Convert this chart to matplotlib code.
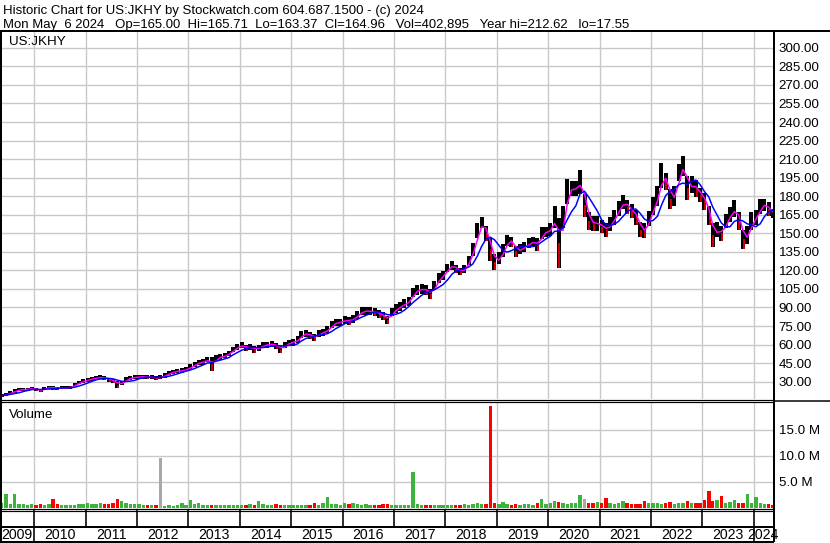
import matplotlib
matplotlib.use("Agg")
import matplotlib.pyplot as plt
import matplotlib.dates as mdates
from matplotlib.lines import Line2D
import numpy as np
import pandas as pd

# ---------------- data ----------------
title_line1 = "Historic Chart for US:JKHY by Stockwatch.com 604.687.1500 - (c) 2024"
title_line2 = ("Mon May  6 2024   Op=165.00  Hi=165.71  Lo=163.37  Cl=164.96   "
               "Vol=402,895   Year hi=212.62   lo=17.55")
symbol = "US:JKHY"
volume_title = "Volume"

first_month = "2009-05"          # monthly bars, May 2009 .. May 2024
years = list(range(2009, 2025))
price_ticks = [30, 45, 60, 75, 90, 105, 120, 135, 150, 165, 180, 195, 210,
               225, 240, 255, 270, 285, 300]
vol_ticks = [5, 10, 15]          # millions

price_hi = [
    19.8, 20.8, 22.3, 23.8, 24.8, 24.8, 25.3, 25.8,                          # 2009 May-Dec
    24.8, 24.3, 25.8, 26.8, 26.5, 25.8, 26.3, 26.3, 26.8, 28.8, 30.8, 31.8,  # 2010
    33.1, 34.1, 34.6, 35.1, 34.6, 33.1, 32.3, 30.5, 30.8, 33.6, 34.6, 35.1,  # 2011
    35.7, 35.7, 35.2, 35.2, 34.7, 35.2, 36.7, 38.7, 39.7, 40.2, 40.7, 41.7,  # 2012
    44.2, 46.2, 47.7, 48.2, 50.2, 49.7, 51.2, 52.2, 53.2, 55.2, 58.2, 60.2,  # 2013
    62, 59.5, 60.5, 58.5, 60, 62, 62.5, 63, 61.5, 58.5, 62, 64,              # 2014
    64.8, 66.8, 70.8, 71.8, 69.8, 68.8, 71.8, 72.8, 74.8, 78.8, 80.8, 80.8,  # 2015
    83.2, 82.2, 84.2, 87.2, 90.2, 90.2, 90.2, 89.2, 88.2, 86.2, 83.2, 89.2,  # 2016
    92.8, 94.8, 96.8, 98.8, 105.8, 107.8, 108.8, 107.8, 104.8, 111.8, 117.8, 119.8,  # 2017
    125, 128, 124.5, 122, 124.5, 132, 142, 158, 163, 156, 146, 133,        # 2018
    135, 141, 149, 147, 140, 141, 143, 146, 147, 146, 155, 155,            # 2019
    158, 172, 162, 172, 194, 192, 192, 201, 182, 167, 164, 164,            # 2020
    161, 158, 163, 169, 176, 181, 177, 174, 169, 159, 158, 168,            # 2021
    179, 188, 207, 199, 186, 188, 206, 212.6, 196, 196, 193, 187,          # 2022
    183, 172, 158, 159, 156, 166, 171, 177, 167, 153, 156, 167,            # 2023
    169, 178, 178, 175, 170,                                               # 2024 Jan-May
]
price_lo = [
    17.6, 18.3, 19.7, 21.2, 22.2, 22.2, 22.7, 23.2,
    22.2, 21.7, 23.2, 24.2, 23.5, 23.2, 23.7, 23.7, 24.2, 26.2, 28.2, 29.2,
    29.9, 30.9, 31.4, 31.9, 31.4, 29.9, 28.8, 24.8, 27.2, 30.4, 31.4, 31.9,
    32.3, 32.3, 31.8, 31.8, 31.3, 31.8, 33.3, 35.3, 36.3, 36.8, 37.3, 38.3,
    39.8, 41.8, 43.3, 43.8, 45.8, 38.5, 46.8, 47.8, 48.8, 50.8, 53.8, 55.8,
    57, 54.5, 55.5, 53.5, 55, 57, 57.5, 58, 56.5, 53.5, 57, 59,
    59.2, 61.2, 65.2, 66.2, 64.2, 63.2, 66.2, 67.2, 69.2, 73.2, 75.2, 75.2,
    76.8, 75.8, 77.8, 80.8, 83.8, 83.8, 83.8, 82.8, 81.8, 79.8, 76.8, 82.8,
    85.2, 87.2, 89.2, 91.2, 98.2, 100.2, 101.2, 100.2, 97.2, 104.2, 110.2, 112.2,
    119, 120, 117.5, 116, 118, 124.5, 132, 146, 154, 144, 128, 120,
    125, 131, 140, 139, 131, 133, 135, 138, 139, 136, 145, 147,
    148, 154, 122, 154, 174, 180, 180, 182, 163, 153, 152, 152,
    150, 147, 152, 157, 164, 170, 166, 162, 157, 147, 146, 156,
    165, 172, 187, 185, 170, 172, 192, 196, 177, 183, 179, 175,
    169, 157, 139, 147, 144, 154, 159, 163, 153, 137, 141, 153,
    157, 166, 168, 164, 162,
]
volume_m = [
    0.9, 2.6, 0.8, 2.6, 0.7, 0.8, 0.6, 0.7,
    0.6, 0.7, 0.6, 0.8, 1.7, 0.8, 0.6, 0.5, 0.6, 0.5, 0.7, 0.8,
    0.9, 0.8, 0.7, 0.9, 0.7, 0.8, 1.0, 1.6, 1.2, 0.9, 0.7, 0.8,
    0.8, 0.6, 0.5, 0.5, 0.6, 9.5, 0.4, 0.5, 0.4, 0.5, 1.0, 0.6,
    1.5, 0.7, 1.0, 0.6, 0.5, 0.6, 0.5, 0.5, 0.6, 0.5, 0.6, 0.5,
    0.5, 0.6, 0.8, 0.5, 1.3, 0.7, 0.6, 0.5, 0.7, 0.6, 0.5, 0.5,
    0.5, 0.6, 0.5, 0.5, 0.6, 1.0, 0.6, 1.0, 2.1, 0.8, 0.7, 0.6,
    1.0, 0.8, 0.9, 0.7, 0.6, 0.7, 0.6, 0.6, 0.6, 0.7, 0.8, 0.6,
    0.5, 0.5, 0.6, 0.5, 6.8, 0.8, 0.5, 0.6, 0.5, 0.6, 0.5, 0.6,
    0.5, 0.6, 0.5, 0.6, 0.7, 0.6, 0.8, 0.9, 0.7, 0.8, 19.6, 0.9,
    0.8, 1.1, 0.7, 0.6, 0.7, 0.6, 0.8, 0.7, 0.6, 0.9, 1.7, 0.8,
    1.0, 1.2, 1.1, 0.9, 0.8, 0.9, 0.9, 2.4, 1.6, 1.0, 0.9, 1.1,
    0.9, 1.8, 1.0, 0.8, 1.0, 1.3, 0.9, 0.8, 0.7, 0.8, 1.3, 1.0,
    0.9, 1.0, 0.8, 0.9, 1.1, 0.8, 0.9, 1.0, 1.3, 0.9, 0.9, 1.0,
    1.5, 3.2, 1.2, 1.5, 2.2, 1.0, 1.1, 1.5, 1.0, 0.9, 2.6, 0.9,
    2.0, 0.9, 0.8, 0.8, 0.6,
]
neutral_months = ["2012-06", "2020-09"]   # grey volume bars

# ---------------- styling / layout ----------------
W, H, DPI = 830, 543, 100
FONT = ["Liberation Sans", "DejaVu Sans"]
plt.rcParams["font.family"] = FONT
FS = 9.6
GRID = "#c8c8c8"
RED = "#ff0000"
GREEN = "#3cb43c"
GREY = "#a8a8a8"
PT = 72 / DPI   # points per pixel

fig = plt.figure(figsize=(W / DPI, H / DPI), dpi=DPI)
fig.patch.set_facecolor("white")


def fx(x):
    return x / W


def fy(y):
    return 1 - y / H


def add_axes_px(x0, y0, x1, y1):
    return fig.add_axes([fx(x0), fy(y1), (x1 - x0) / W, (y1 - y0) / H])


def line_px(xs, ys, lw=1.0, color="black"):
    fig.add_artist(Line2D([fx(x) for x in xs], [fy(y) for y in ys],
                          transform=fig.transFigure, color=color,
                          linewidth=lw * PT, solid_capstyle="butt"))


# dates
months = pd.date_range(first_month + "-01", periods=len(price_hi), freq="MS")
mid_dates = months + pd.Timedelta(days=14)
xdates = mdates.date2num(mid_dates.to_pydatetime())
x_left = mdates.date2num(pd.Timestamp("2009-05-03").to_pydatetime())
x_right = mdates.date2num(pd.Timestamp("2024-05-16").to_pydatetime())
year_bounds = [mdates.date2num(pd.Timestamp(f"{y}-01-01").to_pydatetime())
               for y in years[1:]]

hi = np.array(price_hi)
lo = np.array(price_lo)
mid = (hi + lo) / 2
up = np.r_[True, np.diff(mid) >= 0]
ma_fast = pd.Series(mid).rolling(2, min_periods=1).mean().values
ma_slow = pd.Series(mid).rolling(5, min_periods=1).mean().values

month_keys = [d.strftime("%Y-%m") for d in months]
vol_colors = [GREY if k in neutral_months else (GREEN if u else RED)
              for k, u in zip(month_keys, up)]

# ---------------- price panel ----------------
axp = add_axes_px(0, 32, 773, 399)
axp.set_xlim(x_left, x_right)
axp.set_ylim(16.0, 312.8)
axp.set_xticks(year_bounds)
axp.set_yticks(price_ticks)
axp.set_yticklabels([f"{v:.2f}" for v in price_ticks])
axp.grid(True, color=GRID, linewidth=1.4 * PT)
axp.set_axisbelow(True)
axp.tick_params(axis="x", length=0, labelbottom=False)
axp.tick_params(axis="y", length=0, left=False, labelleft=False,
                right=False, labelright=True, pad=4.0, labelsize=FS)
for s in axp.spines.values():
    s.set_visible(False)
# high-low bars (black), with red marks on the lower half of down months
axp.vlines(xdates, lo, hi, colors="black", linewidth=4.0 * PT, zorder=2)
dn = ~up
axp.vlines(xdates[dn] + 5, lo[dn], mid[dn], colors=RED, linewidth=1.6 * PT, zorder=2.5)
axp.plot(xdates, ma_fast, color="#ff00ff", linewidth=1.5 * PT, zorder=3)
axp.plot(xdates, ma_slow, color="#0000ff", linewidth=1.5 * PT, zorder=4)

# ---------------- volume panel ----------------
axv = add_axes_px(0, 402, 773, 508.5)
axv.set_xlim(x_left, x_right)
axv.set_ylim(-0.15, 20.33)
axv.set_xticks(year_bounds)
axv.set_yticks(vol_ticks)
axv.set_yticklabels([f"{v:.1f} M" for v in vol_ticks])
axv.grid(True, color=GRID, linewidth=1.4 * PT)
axv.set_axisbelow(True)
axv.tick_params(axis="x", length=0, labelbottom=False)
axv.tick_params(axis="y", length=0, left=False, labelleft=False,
                right=False, labelright=True, pad=4.0, labelsize=FS)
for s in axv.spines.values():
    s.set_visible(False)
axv.bar(xdates, volume_m, width=24, color=vol_colors, linewidth=0, zorder=2)

# ---------------- date row ----------------
axd = add_axes_px(0, 510, 773, 541)
axd.set_xlim(x_left, x_right)
axd.set_ylim(541, 510)
axd.axis("off")
for xb in year_bounds:
    axd.plot([xb, xb], [510, 527], color="black", linewidth=1.6 * PT)
for xb in (year_bounds[0], year_bounds[-1]):
    axd.plot([xb, xb], [527, 541], color="black", linewidth=1.6 * PT)
edges = [x_left] + year_bounds + [x_right]
for i, y in enumerate(years):
    xc = (edges[i] + edges[i + 1]) / 2
    axd.text(xc, 535, str(y), ha="center", va="center", fontsize=FS + 0.6,
             clip_on=False)

# ---------------- frame lines ----------------
line_px([0, W], [31, 31], lw=2)
line_px([1, 1], [31, 542], lw=2)
line_px([773.5, 773.5], [31, 542], lw=2)
line_px([0, 773.5], [399.5, 399.5], lw=1.2)
line_px([0, 773.5], [402, 402], lw=1.2)
line_px([773.5, W], [400.5, 400.5], lw=1.5)
line_px([0, 773.5], [508.5, 508.5], lw=1.2)
line_px([0, 773.5], [510.8, 510.8], lw=1.2)
line_px([0, 773.5], [527.3, 527.3], lw=2)
line_px([0, 773.5], [541.5, 541.5], lw=2)

# ---------------- texts ----------------
renderer = fig.canvas.get_renderer()


def fitted_text(x, y, s, target_w, fs0):
    t = fig.text(fx(x), fy(y), s, fontsize=fs0, va="baseline", ha="left")
    w = t.get_window_extent(renderer=renderer).width
    t.set_fontsize(fs0 * target_w / w)
    return t


fitted_text(3, 14, title_line1, 425, FS)
fitted_text(3, 27.7, title_line2, 632, FS)
fig.text(fx(9), fy(45), symbol, fontsize=FS, va="baseline", ha="left")
fig.text(fx(9), fy(417.5), volume_title, fontsize=FS, va="baseline", ha="left")

fig.savefig("out.png", dpi=DPI, facecolor="white")
